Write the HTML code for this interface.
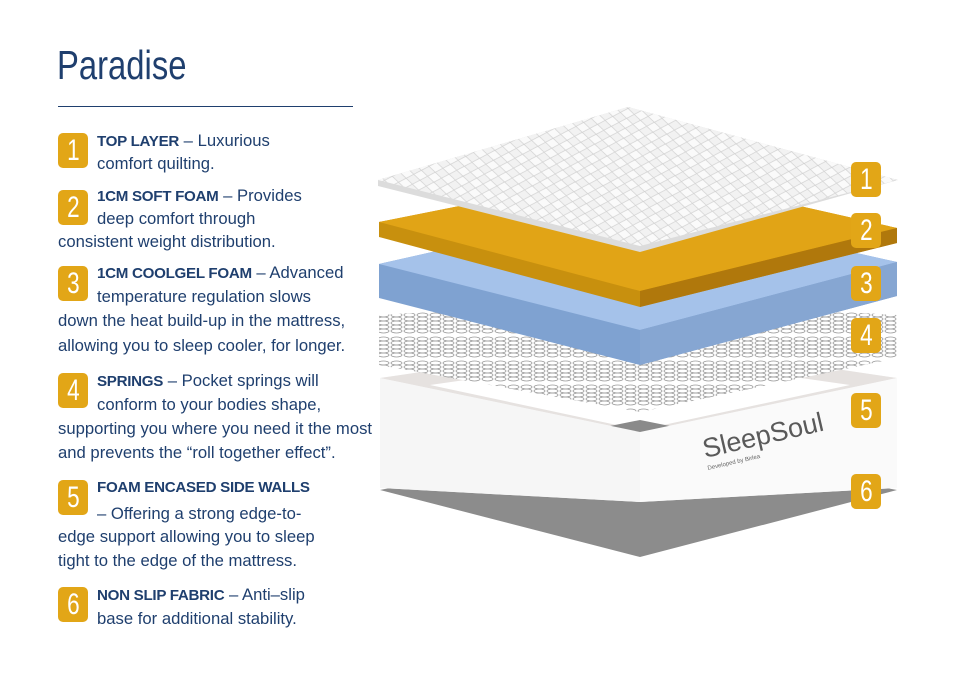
<!DOCTYPE html>
<html><head><meta charset="utf-8"><style>
body{margin:0;background:#fff;}
#c{position:relative;width:960px;height:677px;overflow:hidden;font-family:"Liberation Sans",sans-serif;color:#1f3f6e;}
.t{position:absolute;font-size:16.5px;white-space:nowrap;line-height:20px;transform:scaleX(1.01);transform-origin:0 0;}
.t b{font-size:15px;letter-spacing:-0.3px;}
.b{position:absolute;width:30px;height:35px;background:#e2a617;border-radius:5px;color:#fff;font-family:"Liberation Sans",sans-serif;font-size:30px;line-height:35px;text-align:center;}
.b span{display:inline-block;transform:scaleX(0.75);}
h1{position:absolute;left:57px;top:42px;margin:0;font-weight:normal;font-size:41px;font-family:"Liberation Sans",sans-serif;color:#1f3f6e;transform:scaleX(0.8);transform-origin:0 0;}
</style></head><body><div id="c">
<h1>Paradise</h1>
<div style="position:absolute;left:58px;top:106px;width:295px;height:1px;background:#1f3f6e"></div>

<svg width="960" height="677" style="position:absolute;left:0;top:0">
<defs>
<pattern id="q" width="14" height="10" patternUnits="userSpaceOnUse" patternTransform="rotate(8)">
<rect width="14" height="10" fill="#f2f2f2"/>
<path d="M0 5L7 0L14 5L7 10Z" fill="#fafafa" stroke="#cfcfcf" stroke-width="0.7"/>
</pattern>
<pattern id="s" width="13" height="24" patternUnits="userSpaceOnUse">
<rect width="13" height="24" fill="#fff"/>
<g fill="none" stroke="#9a9a9a" stroke-width="0.8">
<ellipse cx="6.5" cy="3" rx="5.5" ry="2"/><ellipse cx="6.5" cy="7" rx="5.5" ry="2"/><ellipse cx="6.5" cy="11" rx="5.5" ry="2"/><ellipse cx="6.5" cy="15" rx="5.5" ry="2"/><ellipse cx="6.5" cy="19" rx="5.5" ry="2"/></g>
</pattern>
</defs>
<polygon points="380,490 640,440 897,490 640,557" fill="#8c8c8c"/>
<polygon points="380,378 640,340 897,378 897,488 640,502 380,488" fill="#f4f4f4"/>
<polygon points="380,378 640,340 897,378 640,432" fill="#e6e2e0"/>
<polygon points="430,385 640,355 850,385 640,430" fill="#ffffff"/>
<polygon points="600,428 640,420 680,428 640,436" fill="#8a8a8a"/>
<polygon points="380,378 640,432 640,502 380,488" fill="#f6f6f6"/>
<polygon points="640,432 897,378 897,488 640,502" fill="#fafafa"/>
<text x="705" y="458" font-family="Liberation Sans" font-size="27" fill="#5a5a5a" transform="rotate(-13 705 458)">SleepSoul</text>
<text x="708" y="470" font-family="Liberation Sans" font-size="6" fill="#666" transform="rotate(-13 708 470)">Developed by Birlea</text>
<polygon points="379,315 640,300 897,315 897,358 640,412 379,365" fill="url(#s)"/>
<polygon points="379,264 640,205 897,262 897,296 640,365 379,298" fill="#7fa2d1"/>
<polygon points="379,264 640,205 897,262 640,330" fill="#a5c2ea"/>
<polygon points="640,330 897,262 897,296 640,365" fill="#86a6d2"/>
<polygon points="379,222 640,170 897,228 897,243 640,307 379,237" fill="#c8900e"/>
<polygon points="379,222 640,170 897,228 640,291" fill="#e1a416"/>
<polygon points="640,291 897,228 897,243 640,307" fill="#b0780c"/>
<polygon points="378,180 628,107 898,180 640,252 378,186" fill="#dcdcdc"/>
<polygon points="378,180 628,107 898,180 640,246" fill="url(#q)"/>
</svg>

<div class="b" style="left:851px;top:162px"><span>1</span></div>
<div class="b" style="left:851px;top:213px"><span>2</span></div>
<div class="b" style="left:851px;top:266px"><span>3</span></div>
<div class="b" style="left:851px;top:318px"><span>4</span></div>
<div class="b" style="left:851px;top:393px"><span>5</span></div>
<div class="b" style="left:851px;top:474px"><span>6</span></div>

<div class="b" style="left:58px;top:133px"><span>1</span></div>
<div class="b" style="left:58px;top:190px"><span>2</span></div>
<div class="b" style="left:58px;top:266px"><span>3</span></div>
<div class="b" style="left:58px;top:373px"><span>4</span></div>
<div class="b" style="left:58px;top:480px"><span>5</span></div>
<div class="b" style="left:58px;top:587px"><span>6</span></div>

<div class="t" style="left:97px;top:131px"><b>TOP LAYER</b> – Luxurious</div>
<div class="t" style="left:97px;top:154px">comfort quilting.</div>
<div class="t" style="left:97px;top:186px"><b>1CM SOFT FOAM</b> – Provides</div>
<div class="t" style="left:97px;top:209px">deep comfort through</div>
<div class="t" style="left:58px;top:232px">consistent weight distribution.</div>
<div class="t" style="left:97px;top:263px"><b>1CM COOLGEL FOAM</b> – Advanced</div>
<div class="t" style="left:97px;top:287px">temperature regulation slows</div>
<div class="t" style="left:58px;top:311px">down the heat build-up in the mattress,</div>
<div class="t" style="left:58px;top:336px">allowing you to sleep cooler, for longer.</div>
<div class="t" style="left:97px;top:371px"><b>SPRINGS</b> – Pocket springs will</div>
<div class="t" style="left:97px;top:395px">conform to your bodies shape,</div>
<div class="t" style="left:58px;top:419px">supporting you where you need it the most</div>
<div class="t" style="left:58px;top:443px">and prevents the “roll together effect”.</div>
<div class="t" style="left:97px;top:477px"><b>FOAM ENCASED SIDE WALLS</b></div>
<div class="t" style="left:97px;top:504px">– Offering a strong edge-to-</div>
<div class="t" style="left:58px;top:527px">edge support allowing you to sleep</div>
<div class="t" style="left:58px;top:551px">tight to the edge of the mattress.</div>
<div class="t" style="left:97px;top:585px"><b>NON SLIP FABRIC</b> – Anti–slip</div>
<div class="t" style="left:97px;top:609px">base for additional stability.</div>
</div></body></html>
